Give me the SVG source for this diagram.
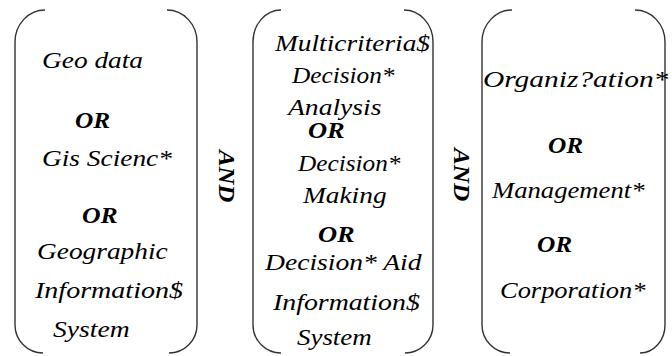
<svg xmlns="http://www.w3.org/2000/svg" width="672" height="356" viewBox="0 0 672 356">
<style>
.br{fill:none;stroke:#333;stroke-width:1.4}
text{font-family:'Liberation Serif','Times New Roman','Noto Serif','DejaVu Serif',serif;font-style:italic;font-size:23px;fill:#000}
.b{font-weight:bold}
</style>
<rect width="672" height="356" fill="#fff"/>
<g id="box1">
<path class="br" d="M45,10 A30,32 0 0 0 15,42 V325 A28,28 0 0 0 43,353"/>
<path class="br" d="M167,10 A30,32 0 0 1 197,42 V325 A28,28 0 0 1 169,353"/>
<text transform="translate(42,68) scale(1.19,1)">Geo data</text>
<text class="b" transform="translate(75,128) scale(1.1,1)">OR</text>
<text transform="translate(42,166) scale(1.19,1)">Gis Scienc*</text>
<text class="b" transform="translate(82,223) scale(1.12,1)">OR</text>
<text transform="translate(37,259) scale(1.19,1)">Geographic</text>
<text transform="translate(35,298) scale(1.22,1)">Information$</text>
<text transform="translate(53,337) scale(1.2,1)">System</text>
</g>
<g id="box2">
<path class="br" d="M281,10 A28,32 0 0 0 253,42 V325 A28,28 0 0 0 281,353"/>
<path class="br" d="M404,10 A29,32 0 0 1 433,42 V325 A28,28 0 0 1 405,353"/>
<text transform="translate(275,51) scale(1.19,1)">Multicriteria$</text>
<text transform="translate(292,83) scale(1.1,1)">Decision*</text>
<text transform="translate(288,115) scale(1.2,1)">Analysis</text>
<text class="b" transform="translate(308,138) scale(1.15,1)">OR</text>
<text transform="translate(298,171) scale(1.1,1)">Decision*</text>
<text transform="translate(303,203) scale(1.19,1)">Making</text>
<text class="b" transform="translate(318,242) scale(1.15,1)">OR</text>
<text transform="translate(265,270) scale(1.2,1)">Decision* Aid</text>
<text transform="translate(273,310) scale(1.21,1)">Information$</text>
<text transform="translate(297,345) scale(1.17,1)">System</text>
</g>
<g id="box3">
<path class="br" d="M512,10 A30,32 0 0 0 482,42 V325 A28,28 0 0 0 510,353"/>
<path class="br" d="M635,10 A30,32 0 0 1 665,42 V325 A25,28 0 0 1 640,353"/>
<text transform="translate(483,87) scale(1.28,1)">Organiz?ation*</text>
<text class="b" transform="translate(548,153) scale(1.1,1)">OR</text>
<text transform="translate(492,198) scale(1.16,1)">Management*</text>
<text class="b" transform="translate(537,252) scale(1.1,1)">OR</text>
<text transform="translate(500,298) scale(1.15,1)">Corporation*</text>
</g>
<g id="connectors">
<text class="b" transform="translate(219,150) rotate(90) scale(1.08,1)">AND</text>
<text class="b" transform="translate(454,148) rotate(90) scale(1.1,1)">AND</text>
</g>
</svg>
